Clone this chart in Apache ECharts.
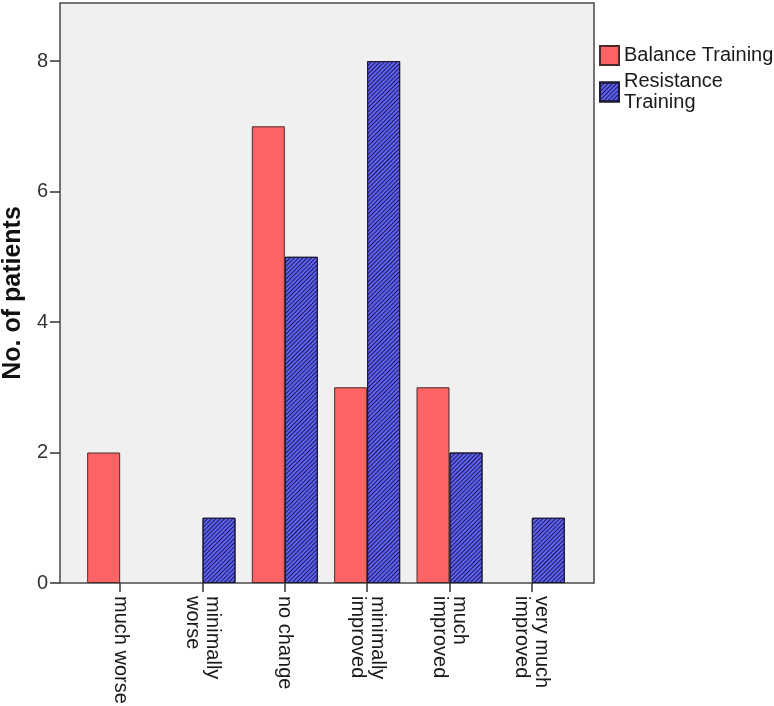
<!DOCTYPE html>
<html>
<head>
<meta charset="utf-8">
<script src="https://cdn.jsdelivr.net/npm/echarts@6/dist/echarts.min.js"></script>
<style>
  html, body { margin: 0; padding: 0; background: #fff; }
  #chart { width: 774px; height: 706px; }
</style>
</head>
<body>
<div id="chart"></div>
<script>
const categories = [
  'much worse',
  'minimally\nworse',
  'no change',
  'minimally\nimproved',
  'much\nimproved',
  'very much\nimproved'
];
const balance = [2, 0, 7, 3, 3, 0];
const resistance = [0, 1, 5, 8, 2, 1];
const yTicks = [0, 2, 4, 6, 8];
const yMax = 8.89;

const font = 'Liberation Sans, Arial, sans-serif';
// empty categories get no bar at all
const noZero = arr => arr.map(v => (v === 0 ? null : v));

const myChart = echarts.init(document.getElementById('chart'));
myChart.setOption({
  animation: false,
  textStyle: { fontFamily: font },
  grid: [
    // outer frame with background
    { left: 60, top: 3, right: 180, bottom: 123, show: true, outerBoundsMode: 'none',
      backgroundColor: '#f0f0f0', borderColor: '#4a4a4a', borderWidth: 1.5 },
    // inner band area where the categories sit
    { left: 79, top: 3, right: 201, bottom: 123, outerBoundsMode: 'none' }
  ],
  legend: {
    orient: 'vertical',
    left: 594,
    top: 40,
    icon: 'rect',
    itemWidth: 19,
    itemHeight: 19,
    itemGap: 5,
    textStyle: { fontSize: 20, lineHeight: 21, color: '#1a1a1a', fontFamily: font },
    data: ['Balance Training', 'Resistance\nTraining']
  },
  xAxis: [
    { gridIndex: 0, type: 'value', show: false, min: 0, max: 1 },
    {
      gridIndex: 1,
      type: 'category',
      data: categories,
      axisLine: { show: false },
      axisTick: { show: true, alignWithLabel: true, length: 9,
        lineStyle: { color: '#333', width: 1.5 } },
      axisLabel: { rotate: -90, fontSize: 20, lineHeight: 20, margin: 13,
        padding: [12, 0, 0, 0], color: '#1a1a1a', interval: 0 }
    }
  ],
  yAxis: [
    {
      gridIndex: 0,
      type: 'value',
      min: 0,
      max: yMax,
      name: 'No. of patients',
      nameLocation: 'middle',
      nameGap: 33,
      nameTextStyle: { fontSize: 25, fontWeight: 'bold', color: '#111' },
      splitLine: { show: false },
      axisLine: { show: false },
      axisTick: { show: true, length: 10, customValues: yTicks,
        lineStyle: { color: '#333', width: 1.5 } },
      axisLabel: { customValues: yTicks, fontSize: 20, margin: 12, color: '#333' }
    },
    { gridIndex: 1, type: 'value', min: 0, max: yMax, show: false }
  ],
  series: [
    {
      name: 'Balance Training',
      type: 'bar',
      xAxisIndex: 1,
      yAxisIndex: 1,
      barWidth: 33,
      barGap: '0%',
      data: noZero(balance),
      itemStyle: { color: '#ff6464', borderColor: '#4a2a2a', borderWidth: 1 }
    },
    {
      name: 'Resistance\nTraining',
      type: 'bar',
      xAxisIndex: 1,
      yAxisIndex: 1,
      barWidth: 33,
      barGap: '0%',
      data: noZero(resistance),
      itemStyle: {
        color: '#6262f2',
        borderColor: '#1a1a33',
        borderWidth: 1,
        decal: {
          symbol: 'rect',
          color: 'rgba(0,0,40,0.75)',
          dashArrayX: [1, 0],
          dashArrayY: [1, 2],
          rotation: -Math.PI / 4
        }
      }
    }
  ]
});
</script>
</body>
</html>
